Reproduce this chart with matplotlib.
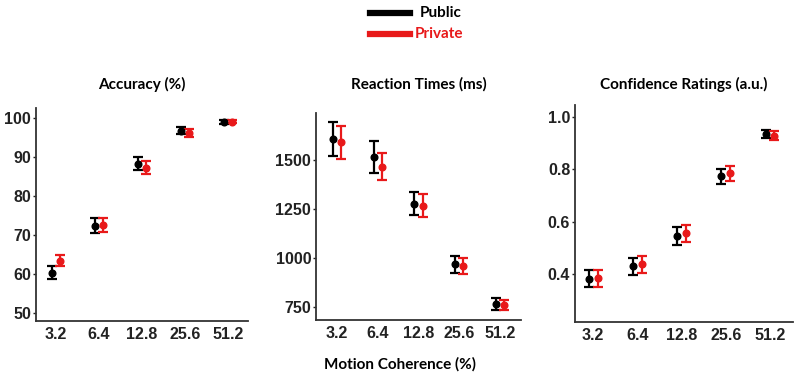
import matplotlib
matplotlib.use("Agg")
import matplotlib.pyplot as plt
from matplotlib.lines import Line2D
import numpy as np

coherence = ["3.2", "6.4", "12.8", "25.6", "51.2"]

acc_public = [60.3, 72.4, 88.3, 96.7, 99.0]
acc_public_lo = [58.8, 70.5, 86.6, 95.9, 98.6]
acc_public_hi = [61.9, 74.3, 89.9, 97.8, 99.4]
acc_private = [63.3, 72.6, 87.3, 96.3, 99.1]
acc_private_lo = [61.9, 70.8, 85.6, 95.2, 98.7]
acc_private_hi = [64.8, 74.4, 89.1, 97.3, 99.6]

rt_public = [1609, 1516, 1279, 968, 766]
rt_public_lo = [1522, 1433, 1220, 926, 736]
rt_public_hi = [1695, 1597, 1338, 1009, 795]
rt_private = [1592, 1467, 1268, 959, 759]
rt_private_lo = [1509, 1398, 1208, 919, 735]
rt_private_hi = [1675, 1536, 1327, 1001, 785]

conf_public = [0.382, 0.429, 0.546, 0.774, 0.934]
conf_public_lo = [0.349, 0.395, 0.511, 0.744, 0.918]
conf_public_hi = [0.416, 0.461, 0.579, 0.799, 0.949]
conf_private = [0.385, 0.437, 0.556, 0.784, 0.926]
conf_private_lo = [0.351, 0.403, 0.522, 0.755, 0.909]
conf_private_hi = [0.416, 0.468, 0.588, 0.812, 0.944]

titles = ["Accuracy (%)", "Reaction Times (ms)", "Confidence Ratings (a.u.)"]
yticks_list = [[50, 60, 70, 80, 90, 100], [750, 1000, 1250, 1500], [0.4, 0.6, 0.8, 1.0]]
ytick_labels = [["50", "60", "70", "80", "90", "100"], ["750", "1000", "1250", "1500"], ["0.4", "0.6", "0.8", "1.0"]]
ylims = [(47.9, 102.6), (684, 1742), (0.217, 1.044)]
xlims = [(0.535, 5.465), (0.49, 5.51), (0.59, 5.52)]

W, H = 800, 383
fig = plt.figure(figsize=(W / 100, H / 100), dpi=100)

# pixel boxes: left, right, top, bottom
boxes = [(36, 248, 108, 321), (316, 521, 113, 320), (575, 793, 105, 322)]

data = [
    (acc_public, acc_public_lo, acc_public_hi, acc_private, acc_private_lo, acc_private_hi),
    (rt_public, rt_public_lo, rt_public_hi, rt_private, rt_private_lo, rt_private_hi),
    (conf_public, conf_public_lo, conf_public_hi, conf_private, conf_private_lo, conf_private_hi),
]

tickfont = dict(family="Liberation Sans", weight="bold", size=11.5)
titlefont = dict(family="Lato", weight="bold", size=11)
red = "#e8191a"

x = np.arange(1, 6)
dodge = 0.1
for i, (l, r, t, b) in enumerate(boxes):
    ax = fig.add_axes([l / W, 1 - b / H, (r - l) / W, (b - t) / H])
    pub, publo, pubhi, pri, prilo, prihi = data[i]
    pub = np.array(pub); pri = np.array(pri)
    ax.errorbar(x - dodge, pub, yerr=[pub - np.array(publo), np.array(pubhi) - pub],
                fmt="o", color="black", ms=4.8, elinewidth=1.6, capsize=3.3, capthick=1.6)
    ax.errorbar(x + dodge, pri, yerr=[pri - np.array(prilo), np.array(prihi) - pri],
                fmt="o", color=red, ms=4.8, elinewidth=1.6, capsize=3.3, capthick=1.6)
    ax.set_xlim(*xlims[i])
    ax.set_ylim(*ylims[i])
    ax.set_xticks(x)
    ax.set_xticklabels(coherence, fontdict=tickfont)
    ax.set_yticks(yticks_list[i])
    ax.set_yticklabels(ytick_labels[i], fontdict=tickfont)
    ax.tick_params(axis="y", length=2.5, width=1, pad=1, colors="#222222")
    ax.tick_params(axis="x", length=0, pad=4, colors="#222222")
    for s in ["top", "right"]:
        ax.spines[s].set_visible(False)
    for s in ["left", "bottom"]:
        ax.spines[s].set_linewidth(1.3)
        ax.spines[s].set_color("#333333")
    fig.text((l + r) / 2 / W, 1 - 84 / H, titles[i], ha="center", va="center", **titlefont)

fig.text(400 / W, 1 - 364 / H, "Motion Coherence (%)", ha="center", va="center", **titlefont)

# legend
fig.add_artist(Line2D([370 / W, 410 / W], [1 - 13 / H, 1 - 13 / H], color="black", lw=4.5,
                      transform=fig.transFigure))
fig.add_artist(Line2D([370 / W, 410 / W], [1 - 34 / H, 1 - 34 / H], color=red, lw=4.5,
                      transform=fig.transFigure))
fig.text(420 / W, 1 - 13 / H, "Public", ha="left", va="center", color="black", **titlefont)
fig.text(415 / W, 1 - 34 / H, "Private", ha="left", va="center", color=red, **titlefont)

fig.savefig("out.png", dpi=100)
